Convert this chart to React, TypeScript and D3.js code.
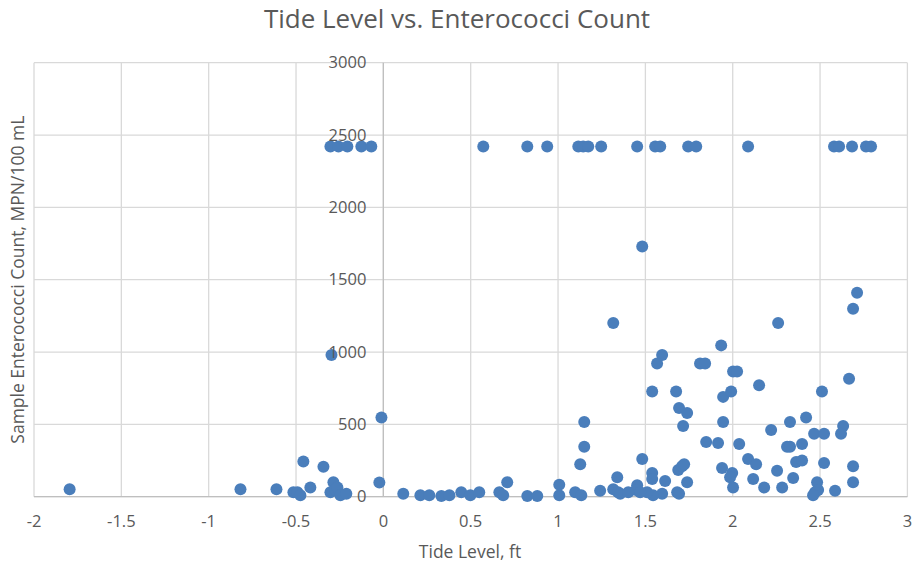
import React from "react";
import * as d3 from "d3";

// Tide level (ft) and sample Enterococci count (MPN/100 mL)
const tideLevel: number[] = [
  // samples at the upper detection limit
  -0.303, -0.257, -0.206, -0.126, -0.069, 0.572, 0.824, 0.938, 1.116, 1.144, 1.173, 1.247,
  1.453, 1.556, 1.585, 1.745, 1.791, 2.088, 2.58, 2.609, 2.683, 2.763, 2.792,
  // high counts
  1.482, 1.316, 2.26, 2.712, 2.689, -0.297, 1.934, 1.596, 1.567, 1.813, 1.842, 2.002, 2.025,
  2.151, 1.539, 1.676, 1.945, 1.991, 2.511, 2.666, 1.693, 1.739, 1.716, 1.15, 1.945, 2.328,
  2.42, 2.22, 2.466, 2.523, 2.632, 2.62, 1.15, 1.848, 1.916, 2.037, 2.311, 2.328, 2.397,
  // low counts
  1.127, 1.482, 1.539, 1.539, 1.688, 1.71, 1.722, 1.939, 1.997, 1.985, 2.002, 2.088, 2.134,
  2.117, 2.18, 2.254, 2.283, 2.346, 2.363, 2.397, 2.523, 2.483, 2.489, 2.471, 2.46, 2.586,
  2.689, 2.689, 1.613, 1.739, 1.682, 1.693, 1.596, 1.544, 1.51, 1.453, 1.447, 1.47, 1.339,
  1.316, 1.344, 1.356, 1.402, 1.241, 1.098, 1.133, 1.007, 1.007,
  // negative tides and near zero
  -1.796, -0.818, -0.612, -0.458, -0.343, -0.515, -0.492, -0.475, -0.418, -0.286, -0.303,
  -0.275, -0.263, -0.246, -0.212, -0.011, -0.023, 0.114, 0.212, 0.263, 0.332, 0.378, 0.446,
  0.498, 0.549, 0.664, 0.686, 0.709, 0.824, 0.881,
];

const enterococci: number[] = [
  2420, 2420, 2420, 2420, 2420, 2420, 2420, 2420, 2420, 2420, 2420, 2420,
  2420, 2420, 2420, 2420, 2420, 2420, 2420, 2420, 2420, 2420, 2420,
  1730, 1200, 1200, 1410, 1300, 980, 1046, 980, 921, 921, 921, 866, 866,
  770, 727, 727, 690, 727, 727, 816, 613, 579, 488, 517, 517, 517,
  548, 461, 435, 435, 488, 435, 345, 378, 372, 365, 345, 345, 365,
  225, 260, 164, 122, 185, 210, 225, 199, 164, 134, 63, 260, 225,
  122, 63, 179, 63, 130, 240, 250, 233, 100, 46, 31, 10, 41,
  210, 100, 108, 100, 31, 20, 20, 10, 30, 80, 46, 30, 135,
  52, 31, 20, 30, 41, 30, 10, 83, 10,
  52, 52, 52, 243, 207, 30, 30, 10, 63, 100, 30,
  48, 63, 10, 20, 548, 98, 20, 10, 10, 5, 10, 30,
  10, 30, 30, 10, 100, 5, 5,
];

const xTicks: number[] = [-2, -1.5, -1, -0.5, 0, 0.5, 1, 1.5, 2, 2.5, 3];
const yTicks: number[] = [0, 500, 1000, 1500, 2000, 2500, 3000];

const chartTitle = "Tide Level vs. Enterococci Count";
const xTitle = "Tide Level, ft";
const yTitle = "Sample Enterococci Count, MPN/100 mL";

const W = 913;
const H = 564;
const FONT = "'Open Sans', 'Segoe UI', sans-serif";
const TEXT = "#595959";

export default function App() {
  const x = d3.scaleLinear().domain([-2, 3]).range([34, 907.4]);
  const y = d3.scaleLinear().domain([0, 3000]).range([496.7, 62.7]);

  const points = tideLevel.map((t, i) => ({ t, c: enterococci[i] }));
  const label = (v: number) => String(v);

  return (
    <svg
      width={W}
      height={H}
      style={{ position: "absolute", left: 0, top: 0, background: "#fff" }}
      fontFamily={FONT}
    >
      <rect x={0} y={0} width={W} height={H} fill="#fff" />
      <text x={457} y={28} textAnchor="middle" fontSize={26} fill={TEXT}>
        {chartTitle}
      </text>

      {/* grid */}
      {yTicks.map((v) => (
        <line key={"gy" + v} x1={x(-2)} x2={x(3)} y1={y(v)} y2={y(v)} stroke="#d9d9d9" strokeWidth={1.3} />
      ))}
      {xTicks.map((v) => (
        <line key={"gx" + v} x1={x(v)} x2={x(v)} y1={y(0)} y2={y(3000)} stroke="#d9d9d9" strokeWidth={1.3} />
      ))}
      {/* axes crossing at the origin */}
      <line x1={x(-2)} x2={x(3)} y1={y(0)} y2={y(0)} stroke="#bfbfbf" strokeWidth={1.3} />
      <line x1={x(0)} x2={x(0)} y1={y(0)} y2={y(3000)} stroke="#bfbfbf" strokeWidth={1.3} />

      {/* points */}
      {points.map((p, i) => (
        <circle key={i} cx={x(p.t)} cy={y(p.c)} r={6} fill="#4a7ebb" />
      ))}

      {/* y tick labels beside the vertical axis */}
      {yTicks.map((v) => (
        <text key={"ty" + v} x={x(0) - 17} y={y(v)} dy="0.35em" textAnchor="end" fontSize={16.5} fill={TEXT}>
          {label(v)}
        </text>
      ))}
      {/* x tick labels */}
      {xTicks.map((v) => (
        <text key={"tx" + v} x={x(v)} y={527} textAnchor="middle" fontSize={16.5} fill={TEXT}>
          {label(v)}
        </text>
      ))}

      <text x={470} y={558} textAnchor="middle" fontSize={17.5} fill={TEXT}>
        {xTitle}
      </text>
      <text
        transform={`translate(24, ${(62.7 + 496.7) / 2}) rotate(-90)`}
        textAnchor="middle"
        fontSize={17.5}
        fill={TEXT}
      >
        {yTitle}
      </text>
    </svg>
  );
}
